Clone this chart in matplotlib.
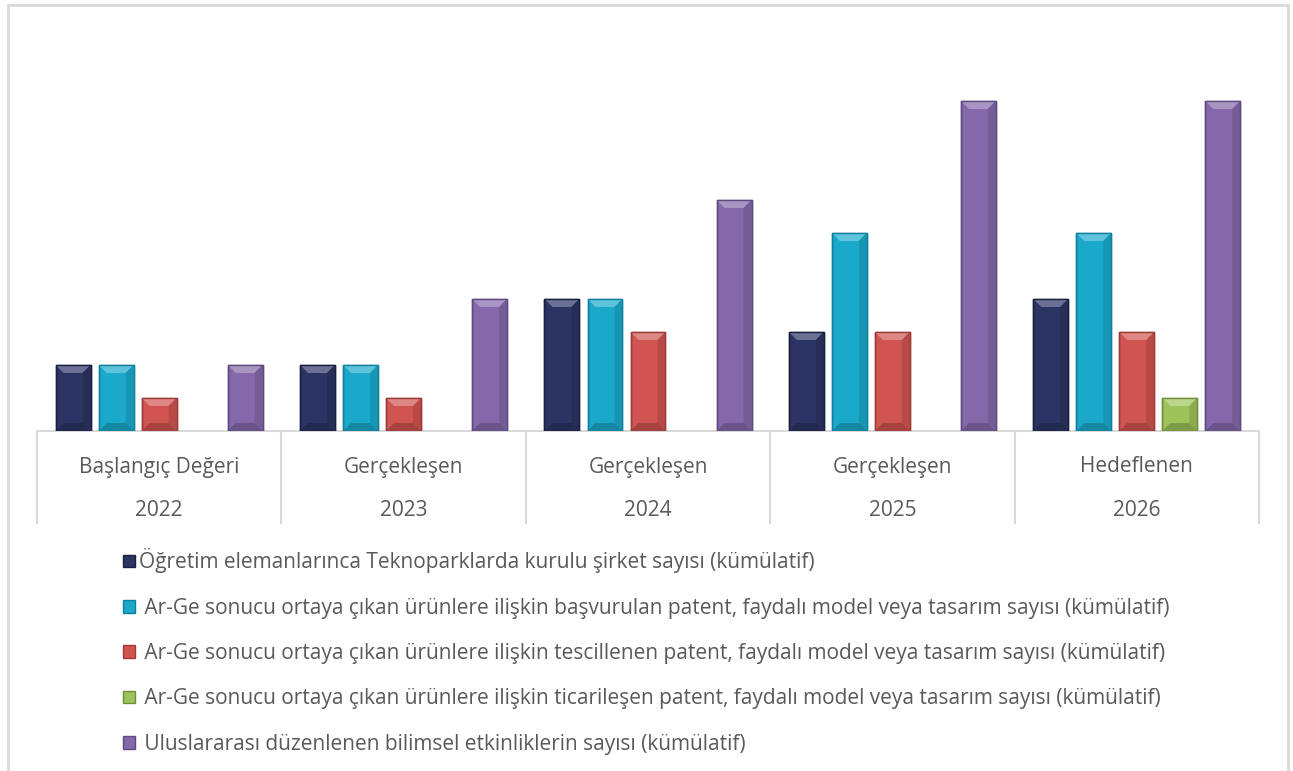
import matplotlib.pyplot as plt
import numpy as np
from matplotlib.patches import Rectangle, Polygon, Patch
from matplotlib.colors import to_rgb

plt.rcParams['font.family'] = ['Open Sans', 'DejaVu Sans']

# veriler
donemler = ['Başlangıç Değeri', 'Gerçekleşen', 'Gerçekleşen', 'Gerçekleşen', 'Hedeflenen']
yillar = ['2022', '2023', '2024', '2025', '2026']

seriler = [
    'Öğretim elemanlarınca Teknoparklarda kurulu şirket sayısı (kümülatif)',
    ' Ar-Ge sonucu ortaya çıkan ürünlere ilişkin başvurulan patent, faydalı model veya tasarım sayısı (kümülatif)',
    ' Ar-Ge sonucu ortaya çıkan ürünlere ilişkin tescillenen patent, faydalı model veya tasarım sayısı (kümülatif)',
    ' Ar-Ge sonucu ortaya çıkan ürünlere ilişkin ticarileşen patent, faydalı model veya tasarım sayısı (kümülatif)',
    ' Uluslararası düzenlenen bilimsel etkinliklerin sayısı (kümülatif)',
]
sirket = [2, 2, 4, 3, 4]
basvuru = [2, 2, 4, 6, 6]
tescil = [1, 1, 3, 3, 3]
ticari = [0, 0, 0, 0, 1]
etkinlik = [2, 4, 7, 10, 10]

degerler = [sirket, basvuru, tescil, ticari, etkinlik]
renkler = ['#2b3463', '#1aa9cb', '#d05450', '#9dc35a', '#8468aa']
kenar = ['#1a2040', '#10809c', '#9c3a37', '#6f8f3a', '#5e4a80']


def ton(c, f):
    r = np.array(to_rgb(c))
    if f > 0:
        return tuple(r + (1 - r) * f)
    return tuple(r * (1 + f))


fig = plt.figure(figsize=(12.93, 7.71), dpi=100)
# dış çerçeve
fig.patches.append(Rectangle((8 / 1293, -0.01), 1280 / 1293, 1 - 5 / 771 + 0.01,
                             transform=fig.transFigure, fill=False,
                             edgecolor='#d9d9d9', linewidth=2))

ax = fig.add_axes([37 / 1293, 1 - 431 / 771, (1259 - 37) / 1293, (431 - 35) / 771])
x = np.arange(len(yillar))
genislik = 0.143
adim = 0.176
ax.set_xlim(-0.5, len(yillar) - 0.5)
ax.set_ylim(0, 12)
px_x = 1222 / 5
px_y = 396 / 12
dx, dy = 8 / px_x, 8 / px_y

for i, (vals, c, e) in enumerate(zip(degerler, renkler, kenar)):
    bars = ax.bar(x + (i - 2) * adim, vals, genislik, color=c, edgecolor=e,
                  linewidth=1.0, zorder=3)
    for p in bars:
        if p.get_height() == 0:
            p.set_linewidth(0)
            continue
        x0, w, h = p.get_x(), p.get_width(), p.get_height()
        # kabartma efekti
        ax.add_patch(Polygon([(x0, h), (x0 + w, h), (x0 + w - dx, h - dy), (x0 + dx, h - dy)],
                             closed=True, color=ton(c, 0.3), lw=0, zorder=4))
        ax.add_patch(Polygon([(x0 + w, h), (x0 + w, 0), (x0 + w - dx, dy), (x0 + w - dx, h - dy)],
                             closed=True, color=ton(c, -0.12), lw=0, zorder=4))
        ax.add_patch(Polygon([(x0, 0), (x0 + w, 0), (x0 + w - dx, dy), (x0 + dx, dy)],
                             closed=True, color=ton(c, -0.2), lw=0, zorder=4))
        ax.add_patch(Rectangle((x0, 0), w, h, fill=False, edgecolor=e, lw=1.0, zorder=5))

for s in ['top', 'right', 'left']:
    ax.spines[s].set_visible(False)
ax.spines['bottom'].set_color('#d9d9d9')
ax.spines['bottom'].set_linewidth(1.5)
ax.set_yticks([])
ax.set_xticks([])

# çok seviyeli kategori ekseni
tr = ax.get_xaxis_transform()
alt = -(523 - 431) / (431 - 35)
for k in range(len(yillar) + 1):
    ax.plot([k - 0.5, k - 0.5], [0, alt], transform=tr, color='#d9d9d9',
            linewidth=1.5, clip_on=False)
for k in range(len(yillar)):
    ax.text(k, -(467 - 431) / (431 - 35), donemler[k], transform=tr, ha='center',
            va='center', fontsize=15, color='#595959')
    ax.text(k, -(510 - 431) / (431 - 35), yillar[k], transform=tr, ha='center',
            va='center', fontsize=15, color='#595959')

tutamaclar = [Patch(facecolor=c, edgecolor=e, linewidth=1.0) for c, e in zip(renkler, kenar)]
fig.legend(tutamaclar, seriler, loc='upper left', bbox_to_anchor=(115 / 1293, 1 - 540 / 771),
           frameon=False, fontsize=15, labelcolor='#595959', handlelength=0.55,
           handleheight=0.55, handletextpad=0.2, labelspacing=1.17,
           borderaxespad=0)

plt.savefig('out.png', dpi=100)
